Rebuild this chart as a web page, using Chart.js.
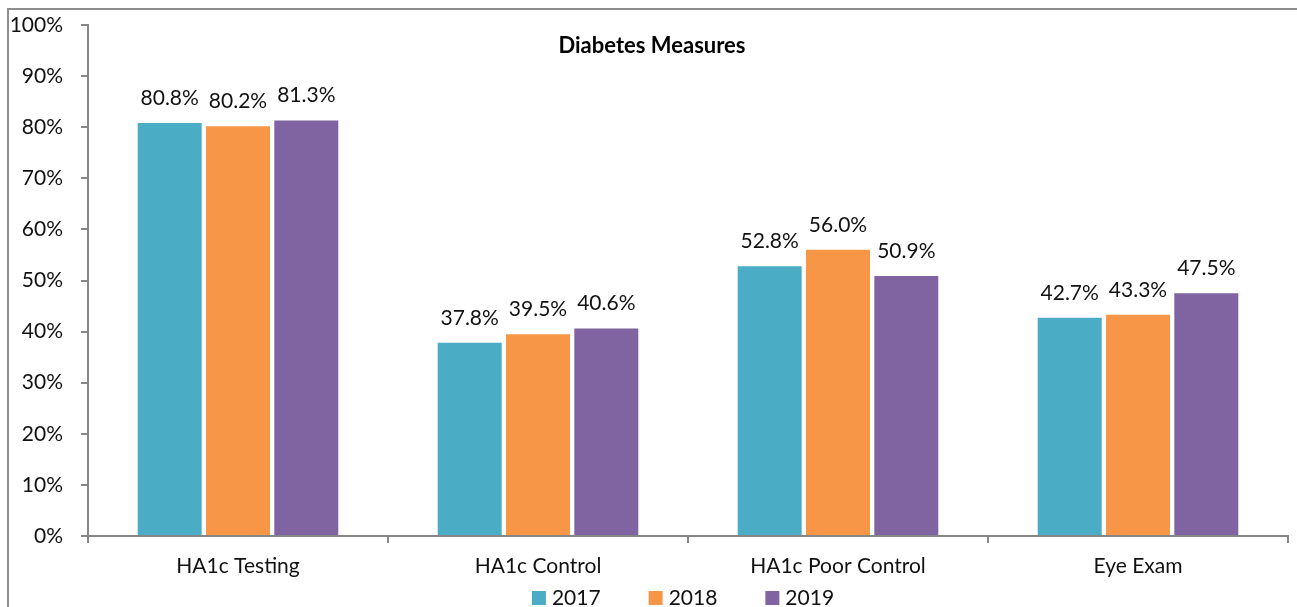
<!DOCTYPE html>
<html>
<head>
<meta charset="utf-8">
<script src="https://cdn.jsdelivr.net/npm/chart.js@4.4.1/dist/chart.umd.min.js"></script>
<style>
  html, body { margin: 0; padding: 0; overflow: hidden; background: #fff; width: 1297px; height: 607px; }
  #wrap { position: absolute; left: 0; top: 0; width: 1297px; height: 607px; }
  #frame { position: absolute; left: 7px; top: 8px; width: 1288px; height: 700px;
           border-left: 2px solid #8e8e8e; border-top: 2px solid #8e8e8e; border-right: 1px solid #d0d0d0;
           pointer-events: none; }
</style>
</head>
<body>
<div id="wrap"><canvas id="c" width="1297" height="607"></canvas></div>
<div id="frame"></div>
<script>
const chartTitle = 'Diabetes Measures';
const categories = ['HA1c Testing', 'HA1c Control', 'HA1c Poor Control', 'Eye Exam'];
const seriesNames = ['2017', '2018', '2019'];
const values2017 = [80.8, 37.8, 52.8, 42.7];
const values2018 = [80.2, 39.5, 56.0, 43.3];
const values2019 = [81.3, 40.6, 50.9, 47.5];
const seriesColors = ['#4BACC6', '#F79646', '#8064A2'];

const FONT = 'Lato, "Open Sans", sans-serif';
const LABEL_SIZE = 21;

const titlePlugin = {
  id: 'innerTitle',
  afterDraw(chart) {
    const ctx = chart.ctx;
    ctx.save();
    ctx.font = 'bold 22px ' + FONT;
    ctx.fillStyle = '#000';
    ctx.textAlign = 'center';
    ctx.textBaseline = 'middle';
    ctx.fillText(chartTitle, 652, 46);
    ctx.restore();
  }
};

const labelPlugin = {
  id: 'valueLabels',
  afterDatasetsDraw(chart) {
    const ctx = chart.ctx;
    ctx.save();
    ctx.font = LABEL_SIZE + 'px ' + FONT;
    ctx.fillStyle = '#111';
    ctx.textAlign = 'center';
    ctx.textBaseline = 'middle';
    chart.data.datasets.forEach((ds, di) => {
      const meta = chart.getDatasetMeta(di);
      meta.data.forEach((bar, i) => {
        ctx.fillText(ds.data[i].toFixed(1) + '%', bar.x, bar.y - 25);
      });
    });
    ctx.restore();
  }
};

const legendPlugin = {
  id: 'customLegend',
  afterDraw(chart) {
    const ctx = chart.ctx;
    ctx.save();
    ctx.font = LABEL_SIZE + 'px ' + FONT;
    ctx.textBaseline = 'middle';
    ctx.textAlign = 'left';
    const box = 14, gapText = 6, gapItem = 48, cy = 598, centerX = 683;
    const items = chart.data.datasets.map(ds => ({ text: ds.label, color: ds.backgroundColor, w: ctx.measureText(ds.label).width }));
    let total = 0;
    items.forEach((it, i) => { total += box + gapText + it.w + (i < items.length - 1 ? gapItem : 0); });
    let x = centerX - total / 2;
    items.forEach(it => {
      ctx.fillStyle = it.color;
      ctx.fillRect(x, cy - box / 2, box, box);
      ctx.fillStyle = '#111';
      ctx.fillText(it.text, x + box + gapText, cy);
      x += box + gapText + it.w + gapItem;
    });
    ctx.restore();
  }
};

const allValues = [values2017, values2018, values2019];

new Chart(document.getElementById('c'), {
  type: 'bar',
  data: {
    labels: categories,
    datasets: seriesNames.map((n, i) => ({
      label: n,
      data: allValues[i],
      backgroundColor: seriesColors[i],
      borderWidth: 0,
      categoryPercentage: 0.683,
      barPercentage: 0.937
    }))
  },
  options: {
    responsive: false,
    animation: false,
    devicePixelRatio: 1,
    layout: { padding: { top: 25, left: 0, right: 9, bottom: 0 } },
    plugins: {
      title: { display: false },
      tooltip: { enabled: false },
      legend: { display: false }
    },
    scales: {
      x: {
        afterFit(scale) { scale.height = 71; scale.paddingLeft = 0; scale.paddingRight = 0; },
        grid: { drawOnChartArea: false, drawTicks: true, tickLength: 7, color: '#868686', lineWidth: 2, offset: true },
        border: { color: '#868686', width: 2 },
        ticks: { font: { family: FONT, size: LABEL_SIZE }, color: '#111', padding: 11 }
      },
      y: {
        min: 0, max: 100,
        afterFit(scale) { scale.width = 88; scale.paddingTop = 0; scale.paddingBottom = 0; },
        grid: { drawOnChartArea: false, drawTicks: true, tickLength: 7, color: '#868686', lineWidth: 2 },
        border: { color: '#868686', width: 2 },
        ticks: { stepSize: 10, font: { family: FONT, size: LABEL_SIZE }, color: '#111', padding: 18,
                 callback: v => v + '%' }
      }
    }
  },
  plugins: [titlePlugin, labelPlugin, legendPlugin]
});
</script>
</body>
</html>
